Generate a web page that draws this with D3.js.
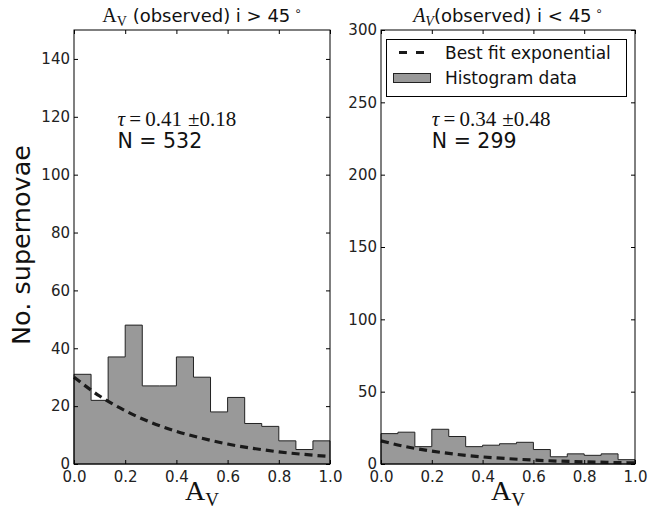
<!DOCTYPE html>
<html><head><meta charset="utf-8">
<script src="https://cdn.jsdelivr.net/npm/d3@7"></script>
<style>body{margin:0;background:#fff} svg{display:block}</style>
</head><body><svg id="c" width="662" height="512"></svg>
<script>
// ---- data ----
const binEdges = [0, 0.0667, 0.1333, 0.2, 0.2667, 0.3333, 0.4, 0.4667, 0.5333, 0.6, 0.6667, 0.7333, 0.8, 0.8667, 0.9333, 1.0];
const countsHigh = [31, 22, 37, 48, 27, 27, 37, 30, 18, 23, 14, 13, 8, 5, 8];
const countsLow  = [21, 22, 12, 24, 19, 12, 13, 14, 15, 10, 5, 7, 6, 7, 3];
const fitX    = [0, 0.1, 0.2, 0.3, 0.4, 0.5, 0.6, 0.7, 0.8, 0.9, 1.0];
const fitHigh = [30, 23.5, 18.4, 14.4, 11.3, 8.9, 6.9, 5.4, 4.2, 3.3, 2.6];
const fitLow  = [16, 11.9, 8.9, 6.6, 4.9, 3.7, 2.7, 2.0, 1.5, 1.1, 0.8];
const xTicks = [0, 0.2, 0.4, 0.6, 0.8, 1.0];
const yTicksHigh = [0, 20, 40, 60, 80, 100, 120, 140];
const yTicksLow = [0, 50, 100, 150, 200, 250, 300];
const yMaxHigh = 150, yMaxLow = 300;
const tauHigh = ["0.41", "0.18"], tauLow = ["0.34", "0.48"];
const nHigh = "532", nLow = "299";
const legendLabels = ["Best fit exponential", "Histogram data"];

const svg = d3.select("#c");
svg.append("rect").attr("width", 662).attr("height", 512).attr("fill", "#fff");
const SANS = "DejaVu Sans", SERIF = "Liberation Serif";
const TOP = 30, BOT = 464;

const panels = [
  {x0: 74, x1: 330, yMax: yMaxHigh, counts: countsHigh, fit: fitHigh, yTicks: yTicksHigh, tau: tauHigh, n: nHigh, italic: false, rel: "i > 45", textX: 0.17},
  {x0: 381, x1: 635, yMax: yMaxLow, counts: countsLow, fit: fitLow, yTicks: yTicksLow, tau: tauLow, n: nLow, italic: true, rel: "i < 45", textX: 0.2}
];

panels.forEach((p, pi) => {
  const x = d3.scaleLinear().domain([0, 1]).range([p.x0, p.x1]);
  const y = d3.scaleLinear().domain([0, p.yMax]).range([BOT, TOP]);
  const g = svg.append("g");

  // histogram step-filled
  const pts = [[binEdges[0], 0]];
  p.counts.forEach((c, i) => { pts.push([binEdges[i], c]); pts.push([binEdges[i + 1], c]); });
  pts.push([binEdges[binEdges.length - 1], 0]);
  g.append("path")
    .attr("d", d3.line().x(d => x(d[0])).y(d => y(d[1]))(pts) + "Z")
    .attr("fill", "#999999").attr("stroke", "#222").attr("stroke-width", 1);

  // fit curve
  g.append("path")
    .attr("d", d3.line().curve(d3.curveMonotoneX).x((d, i) => x(fitX[i])).y(d => y(d))(p.fit))
    .attr("fill", "none").attr("stroke", "#1a1a1a").attr("stroke-width", 3.2)
    .attr("stroke-dasharray", "8,5");

  // axes
  const fmtX = d3.format(".1f");
  const ax = [
    g.append("g").attr("transform", `translate(0,${BOT})`).call(d3.axisBottom(x).tickValues(xTicks).tickSize(-4).tickPadding(7).tickFormat(fmtX)),
    g.append("g").attr("transform", `translate(0,${TOP})`).call(d3.axisTop(x).tickValues(xTicks).tickSize(-4).tickFormat("")),
    g.append("g").attr("transform", `translate(${p.x0},0)`).call(d3.axisLeft(y).tickValues(p.yTicks).tickSize(-4).tickPadding(4)),
    g.append("g").attr("transform", `translate(${p.x1},0)`).call(d3.axisRight(y).tickValues(p.yTicks).tickSize(-4).tickFormat(""))
  ];
  ax.forEach(a => {
    a.select(".domain").remove();
    a.selectAll("line").attr("stroke", "#000").attr("stroke-width", 1);
    a.selectAll("text").attr("font-family", SANS).attr("font-size", 15).attr("fill", "#222");
  });
  g.append("rect").attr("x", p.x0).attr("y", TOP).attr("width", p.x1 - p.x0).attr("height", BOT - TOP)
    .attr("fill", "none").attr("stroke", "#000").attr("stroke-width", 1);

  // annotations
  const tx = x(p.textX);
  const t1 = g.append("text").attr("x", tx).attr("y", 126).attr("font-family", SERIF).attr("font-size", 21).attr("fill", "#111");
  t1.append("tspan").attr("font-style", "italic").text("τ");
  t1.append("tspan").text("\u2009=\u2009" + p.tau[0] + "\u2009\u200a±" + p.tau[1]);
  g.append("text").attr("x", tx).attr("y", 148).attr("font-family", SANS).attr("font-size", 20.5).attr("fill", "#111")
    .text("N = " + p.n);

  // title
  const cx = (p.x0 + p.x1) / 2;
  const tt = g.append("text").attr("x", cx).attr("y", 22).attr("text-anchor", "middle").attr("fill", "#111");
  tt.append("tspan").attr("font-family", SERIF).attr("font-size", 20).attr("font-style", p.italic ? "italic" : "normal").text("A");
  tt.append("tspan").attr("font-family", SERIF).attr("font-size", 14).attr("font-style", p.italic ? "italic" : "normal").attr("dy", 4).text("V");
  tt.append("tspan").attr("font-family", SANS).attr("font-size", 18).attr("dy", -4).text((p.italic ? "" : " ") + "(observed) " + p.rel);
  tt.append("tspan").attr("font-family", SANS).attr("font-size", 12).attr("dy", -7).text(" ∘");

  // x label
  const xl = g.append("text").attr("x", cx).attr("y", 500).attr("text-anchor", "middle").attr("font-family", SERIF).attr("fill", "#111");
  xl.append("tspan").attr("font-size", 28).text("A");
  xl.append("tspan").attr("font-size", 19).attr("dy", 6).text("V");
});

// y label
svg.append("text").attr("transform", "translate(30,245) rotate(-90)").attr("text-anchor", "middle")
  .attr("font-family", SANS).attr("font-size", 25.5).attr("fill", "#111").text("No. supernovae");

// legend
const lg = svg.append("g");
lg.append("rect").attr("x", 386.5).attr("y", 39.5).attr("width", 240).attr("height", 57)
  .attr("fill", "#fff").attr("stroke", "#000").attr("stroke-width", 1);
lg.append("line").attr("x1", 399).attr("x2", 424).attr("y1", 52.5).attr("y2", 52.5)
  .attr("stroke", "#1a1a1a").attr("stroke-width", 3.2).attr("stroke-dasharray", "8,9");
lg.append("rect").attr("x", 393.5).attr("y", 73.5).attr("width", 37).attr("height", 9)
  .attr("fill", "#999999").attr("stroke", "#222").attr("stroke-width", 1);
lg.append("text").attr("x", 445).attr("y", 59).attr("font-family", SANS).attr("font-size", 17).attr("fill", "#111").text(legendLabels[0]);
lg.append("text").attr("x", 445).attr("y", 84).attr("font-family", SANS).attr("font-size", 17).attr("fill", "#111").text(legendLabels[1]);
</script>
</body></html>
